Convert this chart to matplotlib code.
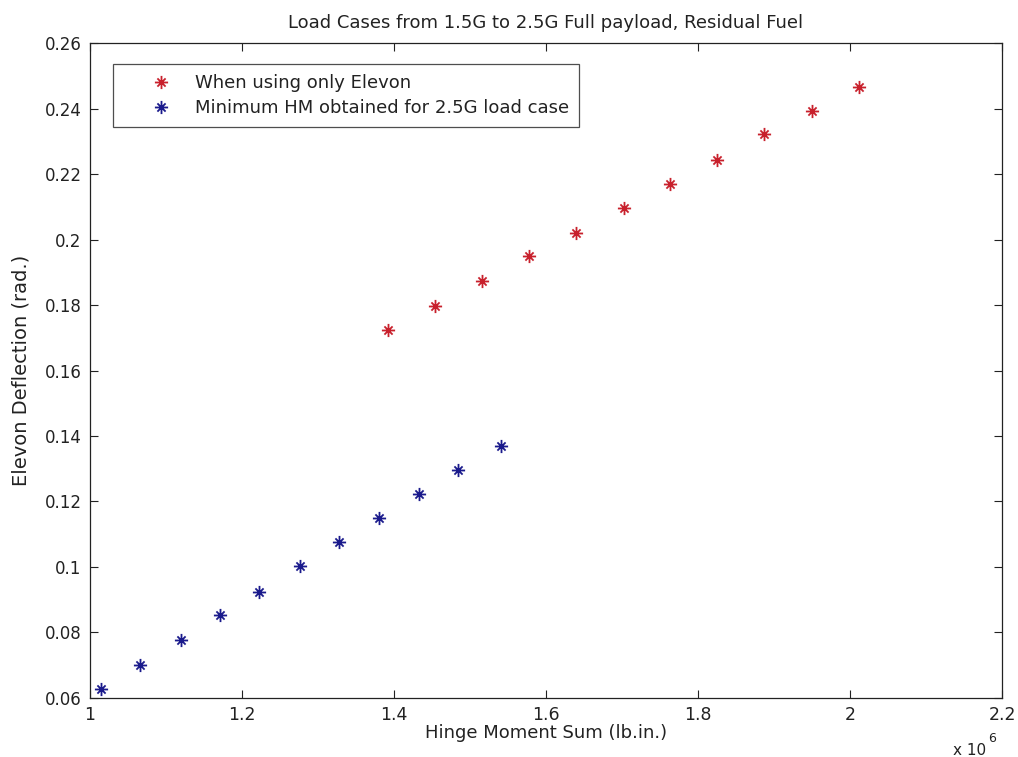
import matplotlib
matplotlib.use("Agg")
import matplotlib.pyplot as plt
from matplotlib.path import Path
from matplotlib.ticker import FuncFormatter, MultipleLocator
from matplotlib.legend_handler import HandlerLine2D

# Data (x in units of 1e6 lb.in.)
elevon_only_x = [1.3925, 1.454, 1.516, 1.578, 1.639, 1.702, 1.763, 1.8246, 1.887, 1.9496, 2.012]
elevon_only_y = [0.1724, 0.1797, 0.1873, 0.1949, 0.2021, 0.2097, 0.2170, 0.2243, 0.2322, 0.2393, 0.2465]
min_hm_x = [1.0145, 1.0658, 1.1197, 1.1717, 1.2228, 1.2763, 1.328, 1.3799, 1.4329, 1.4846, 1.5404]
min_hm_y = [0.0626, 0.0699, 0.0775, 0.0852, 0.0923, 0.1001, 0.1075, 0.1148, 0.1224, 0.1295, 0.1370]

series_labels = ["When using only Elevon", "Minimum HM obtained for 2.5G load case"]
title = "Load Cases from 1.5G to 2.5G Full payload, Residual Fuel"
xlabel = "Hinge Moment Sum (lb.in.)"
ylabel = "Elevon Deflection (rad.)"

plt.rcParams['font.family'] = ['DejaVu Sans']
tc = '#222222'

# MATLAB-like asterisk: long +-arms, shorter diagonals
d = 0.62
verts = [(-1, 0), (1, 0), (0, -1), (0, 1), (-d, -d), (d, d), (-d, d), (d, -d)]
codes = [Path.MOVETO, Path.LINETO] * 4
star = Path(verts, codes)


class MarkerAt(HandlerLine2D):
    """Place the single legend marker at a chosen fraction of the handle box."""
    def __init__(self, frac, **kw):
        super().__init__(**kw)
        self.frac = frac

    def get_xdata(self, legend, xdescent, ydescent, width, height, fontsize):
        x = [-xdescent + self.frac * width]
        return x, x


fig = plt.figure(figsize=(10.18, 7.57), dpi=100)
ax = fig.add_axes([90 / 1018, 1 - 697.7 / 757, (1002 - 90) / 1018, (697.7 - 43.3) / 757])

red = '#c8202c'
blue = '#1a1a8c'
h1, = ax.plot(elevon_only_x, elevon_only_y, linestyle='none', marker=star, ms=9.5,
              mec=red, mfc='none', mew=1.3, label=series_labels[0])
h2, = ax.plot(min_hm_x, min_hm_y, linestyle='none', marker=star, ms=9.5,
              mec=blue, mfc='none', mew=1.3, label=series_labels[1])

ax.set_xlim(1.0, 2.2)
ax.set_ylim(0.06, 0.26)
ax.xaxis.set_major_locator(MultipleLocator(0.2))
ax.yaxis.set_major_locator(MultipleLocator(0.02))
fmt = FuncFormatter(lambda v, p: ('%.2f' % v).rstrip('0').rstrip('.'))
ax.xaxis.set_major_formatter(fmt)
ax.yaxis.set_major_formatter(fmt)
ax.tick_params(direction='in', length=6, width=0.8, top=True, right=True, colors=tc)
ax.tick_params(axis='x', pad=6, labelsize=12.5)
ax.tick_params(axis='y', pad=6, labelsize=12)
for s in ax.spines.values():
    s.set_linewidth(0.9)
    s.set_color(tc)

ax.set_title(title, fontsize=13, pad=11, color=tc)
ax.set_xlabel(xlabel, fontsize=13, labelpad=0, color=tc)
ax.set_ylabel(ylabel, fontsize=14, labelpad=10, color=tc)

fig.text(953 / 1018, 1 - 755 / 757, "x 10", fontsize=11, color=tc, va='baseline')
fig.text(988 / 1018, 1 - 742 / 757, "6", fontsize=9, color=tc, va='baseline')

leg = ax.legend(handles=[h1, h2], loc='upper left', bbox_to_anchor=(23 / 912, 1 - 21 / 654.4),
                fontsize=13, frameon=True, fancybox=False, edgecolor=tc,
                borderaxespad=0, handlelength=3.67, handletextpad=0.33,
                borderpad=0.55, labelspacing=0.38, numpoints=1,
                handler_map={h1: MarkerAt(0.58), h2: MarkerAt(0.58)})
leg.get_frame().set_linewidth(0.9)
for t in leg.get_texts():
    t.set_color(tc)

fig.savefig("out.png", dpi=100, facecolor='white')
